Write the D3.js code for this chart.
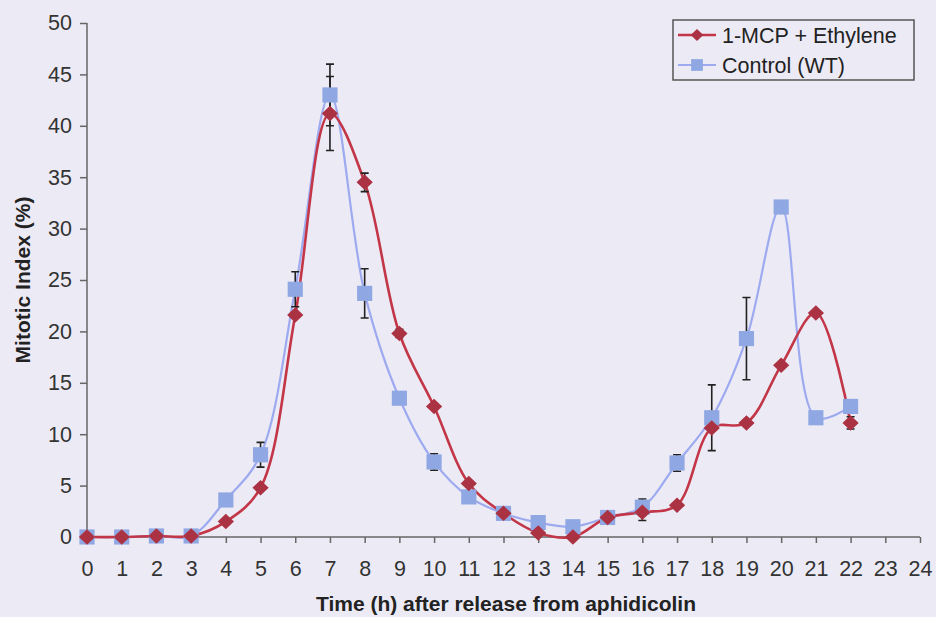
<!DOCTYPE html>
<html>
<head>
    <title>Mitotic Index</title>
    <script src="https://cdn.jsdelivr.net/npm/d3@7/dist/d3.min.js"></script>
</head>
<body style="margin: 0; background: #ecebf5">
<svg width="936" height="617"></svg>

<script>
    // Data
    const hours = d3.range(0, 23);
    const mcpEthylene = [0, 0, 0.1, 0.1, 1.5, 4.8, 21.6, 41.2, 34.5, 19.8, 12.7, 5.2, 2.3, 0.4, 0, 1.9, 2.4, 3.1, 10.6, 11.1, 16.7, 21.8, 11.1];
    const mcpErr = [0, 0, 0, 0, 0, 0, 0, 3.6, 0.9, 0.4, 0, 0, 0, 0, 0, 0, 0.8, 0, 0, 0, 0, 0, 0.6];
    const control = [0, 0, 0.1, 0.1, 3.6, 8.0, 24.1, 43.0, 23.7, 13.5, 7.3, 3.9, 2.3, 1.4, 1.0, 1.9, 2.9, 7.2, 11.6, 19.3, 32.1, 11.6, 12.7];
    const controlErr = [0, 0, 0, 0, 0, 1.2, 1.7, 3.0, 2.4, 0, 0.8, 0.5, 0, 0, 0, 0.5, 0.8, 0.8, 3.2, 4.0, 0.5, 0, 0];
    const xTicks = d3.range(0, 25);
    const yTicks = d3.range(0, 51, 5);
    const seriesNames = ["1-MCP + Ethylene", "Control (WT)"];

    const svg = d3.select("svg");

    const x = d3.scaleLinear().domain([0, 24]).range([87, 920]);
    const y = d3.scaleLinear().domain([0, 50]).range([537, 23]);

    const axisColor = "#666";
    const font = "Liberation Sans, Arial, sans-serif";

    // Axes
    const yAxis = svg.append("g")
        .attr("transform", `translate(${x(0)},0)`)
        .call(d3.axisLeft(y).tickValues(yTicks).tickSize(7).tickPadding(8).tickFormat(d3.format("d")));
    const xAxis = svg.append("g")
        .attr("transform", `translate(0,${y(0)})`)
        .call(d3.axisBottom(x).tickValues(xTicks).tickSize(6).tickPadding(18).tickFormat(d3.format("d")));

    [xAxis, yAxis].forEach(a => {
        a.selectAll("path, line").attr("stroke", axisColor).attr("stroke-width", 1.5);
        a.selectAll("text").attr("font-family", font).attr("font-size", "21.5px").attr("fill", "#333");
    });
    yAxis.select(".domain").attr("d", `M0,${y(50)}V${y(0)}`);
    xAxis.select(".domain").attr("d", `M${x(0)},0H${x(24)}`);

    // Axis titles
    svg.append("text")
        .attr("transform", "translate(30,280) rotate(-90)")
        .attr("text-anchor", "middle")
        .attr("font-family", font)
        .attr("font-size", "21px")
        .attr("font-weight", "bold")
        .attr("fill", "#222")
        .text("Mitotic Index (%)");

    svg.append("text")
        .attr("x", 506)
        .attr("y", 611)
        .attr("text-anchor", "middle")
        .attr("font-family", font)
        .attr("font-size", "21px")
        .attr("font-weight", "bold")
        .attr("fill", "#222")
        .text("Time (h) after release from aphidicolin");

    // rotated-square diamond, a bit wider than d3's default one
    const diamond = {
        draw(context, size) {
            const r = Math.sqrt(size / 2);
            context.moveTo(0, -r);
            context.lineTo(r * 1.05, 0);
            context.lineTo(0, r);
            context.lineTo(-r * 1.05, 0);
            context.closePath();
        }
    };

    const series = [
        { name: seriesNames[0], values: mcpEthylene, err: mcpErr, line: "#c23648", mark: "#ab3243", shape: diamond, size: 120, width: 2.6 },
        { name: seriesNames[1], values: control, err: controlErr, line: "#9eaaf0", mark: "#8fa7e2", shape: d3.symbolSquare, size: 230, width: 2.2 }
    ];

    const line = d3.line()
        .x((d, i) => x(hours[i]))
        .y(d => y(d))
        .curve(d3.curveCatmullRom.alpha(0.5));

    // Lines (control drawn first so red sits over it)
    [series[1], series[0]].forEach(s => {
        svg.append("path")
            .datum(s.values)
            .attr("d", line)
            .attr("fill", "none")
            .attr("stroke", s.line)
            .attr("stroke-width", s.width);
    });

    // Error bars
    series.forEach(s => {
        const pts = hours.map((h, i) => ({ h: h, v: s.values[i], e: s.err[i] })).filter(d => d.e > 0);
        const g = svg.append("g").attr("stroke", "#222").attr("stroke-width", 1.6);
        g.selectAll(".bar").data(pts).enter().append("path")
            .attr("d", d => {
                const cx = x(d.h), top = y(d.v + d.e), bot = y(d.v - d.e);
                return `M${cx},${top}V${bot}M${cx - 4},${top}H${cx + 4}M${cx - 4},${bot}H${cx + 4}`;
            })
            .attr("fill", "none");
    });

    // Markers
    [series[1], series[0]].forEach(s => {
        svg.selectAll(null)
            .data(s.values)
            .enter().append("path")
            .attr("transform", (d, i) => `translate(${x(hours[i])},${y(d)})`)
            .attr("d", d3.symbol().type(s.shape).size(s.size))
            .attr("fill", s.mark);
    });

    // Legend
    const legend = svg.append("g").attr("transform", "translate(673,20)");
    legend.append("rect")
        .attr("width", 241).attr("height", 60)
        .attr("fill", "#ecebf5").attr("stroke", "#555").attr("stroke-width", 1.5);
    series.forEach((s, i) => {
        const ly = 15 + i * 30;
        legend.append("line")
            .attr("x1", 5).attr("x2", 43).attr("y1", ly).attr("y2", ly)
            .attr("stroke", s.line).attr("stroke-width", s.width);
        legend.append("path")
            .attr("transform", `translate(24,${ly})`)
            .attr("d", d3.symbol().type(s.shape).size(s.size * 0.6))
            .attr("fill", s.mark);
        legend.append("text")
            .attr("x", 49).attr("y", ly + 7.5)
            .attr("font-family", font)
            .attr("font-size", "21.5px")
            .attr("fill", "#222")
            .text(s.name);
    });
</script>
</body>
</html>
